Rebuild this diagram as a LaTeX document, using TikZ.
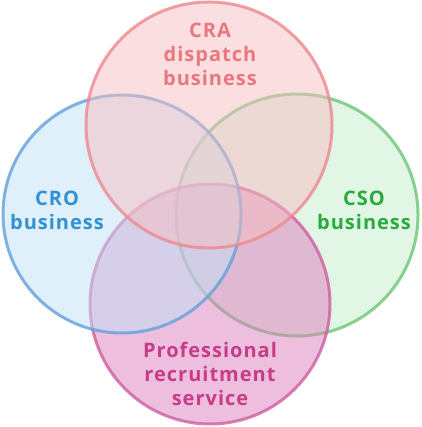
\documentclass[tikz,border=0pt]{standalone}
\usepackage{fontspec}
\setmainfont[LetterSpace=5]{Open Sans}
\usepackage{xcolor}
\definecolor{CraLine}{RGB}{236,136,143}
\definecolor{CraFill}{RGB}{247,189,193}
\definecolor{CraText}{RGB}{232,120,128}
\definecolor{CroLine}{RGB}{99,160,217}
\definecolor{CroFill}{RGB}{192,225,247}
\definecolor{CroText}{RGB}{50,145,210}
\definecolor{CsoLine}{RGB}{106,199,118}
\definecolor{CsoFill}{RGB}{198,237,204}
\definecolor{CsoText}{RGB}{40,170,60}
\definecolor{ProLine}{RGB}{206,95,160}
\definecolor{ProFill}{RGB}{221,125,189}
\definecolor{ProText}{RGB}{200,60,135}
\usetikzlibrary{calc}

\begin{document}
\begin{tikzpicture}[x=1pt, y=-1pt,
  ring/.style={line width=3pt, draw opacity=0.8, fill opacity=0.5},
  label/.style={align=center, font=\fontsize{20}{24}\selectfont\bfseries}]

  \useasboundingbox (0,0) rectangle (421,427);

  \coordinate (CRA) at (209,125);
  \coordinate (CRO) at (122,214);
  \coordinate (CSO) at (297,215);
  \coordinate (PRO) at (210,304);

  \filldraw[ring, draw=CsoLine, fill=CsoFill] (CSO) circle (121);
  \filldraw[ring, draw=ProLine, fill=ProFill] (PRO) circle (120);
  \filldraw[ring, draw=CroLine, fill=CroFill] (CRO) circle (119);
  \filldraw[ring, draw=CraLine, fill=CraFill] (CRA) circle (123);

  \node[label, text=CraText] (cratext) at (210,54) {CRA\\dispatch\\business};
  \node[label, text=CroText] (crotext) at (57,210) {CRO\\business};
  \node[label, text=CsoText] (csotext) at (364,210) {CSO\\business};
  \node[label, text=ProText] (protext) at (210,374) {Professional\\recruitment\\service};

\end{tikzpicture}
\end{document}
